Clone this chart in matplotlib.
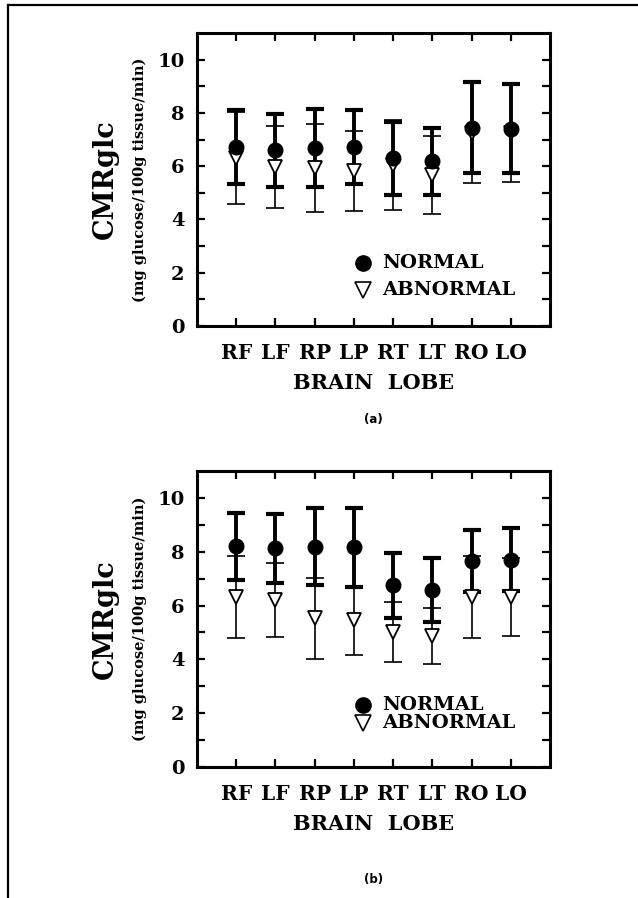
import matplotlib
matplotlib.use("Agg")
import matplotlib.pyplot as plt
import numpy as np

lobes = ["RF", "LF", "RP", "LP", "RT", "LT", "RO", "LO"]

# Panel (a)
a_normal_mean = [6.72, 6.60, 6.68, 6.71, 6.30, 6.18, 7.45, 7.41]
a_normal_sd = [1.40, 1.37, 1.45, 1.39, 1.37, 1.27, 1.72, 1.66]
a_abnormal_mean = [6.30, 5.97, 5.93, 5.82, 6.05, 5.67, 7.25, 7.25]
a_abnormal_sd = [1.73, 1.55, 1.65, 1.50, 1.70, 1.47, 1.90, 1.83]

# Panel (b)
b_normal_mean = [8.20, 8.12, 8.19, 8.16, 6.75, 6.59, 7.67, 7.70]
b_normal_sd = [1.25, 1.29, 1.42, 1.46, 1.20, 1.19, 1.15, 1.17]
b_abnormal_mean = [6.33, 6.21, 5.52, 5.45, 5.02, 4.86, 6.33, 6.33]
b_abnormal_sd = [1.52, 1.37, 1.49, 1.27, 1.13, 1.04, 1.52, 1.45]

yticks = [0, 2, 4, 6, 8, 10]

SERIF = "DejaVu Serif"

fig = plt.figure(figsize=(6.38, 8.98), dpi=100)

# page frame lines (top and left)
fig.add_artist(plt.Line2D([0.012, 1.0], [0.9945, 0.9945], color="black", lw=1.6, transform=fig.transFigure))
fig.add_artist(plt.Line2D([0.012, 0.012], [0.0, 0.9945], color="black", lw=1.6, transform=fig.transFigure))


def panel(rect, nm, nsd, am, asd, leg_y, tag, tag_y):
    ax = fig.add_axes(rect)
    x = np.arange(1, len(lobes) + 1)
    # abnormal (thin)
    ax.errorbar(x, am, yerr=asd, fmt="none", ecolor="black", elinewidth=1.2,
                capsize=6.5, capthick=1.2, zorder=2)
    # normal (thick)
    ax.errorbar(x, nm, yerr=nsd, fmt="none", ecolor="black", elinewidth=2.8,
                capsize=6.5, capthick=3.0, zorder=2.5)
    ax.plot(x, am, linestyle="none", marker="v", markersize=10,
            markerfacecolor="white", markeredgecolor="black", markeredgewidth=1.3, zorder=3)
    ax.plot(x, nm, linestyle="none", marker="o", markersize=10.5,
            markerfacecolor="black", markeredgecolor="black", zorder=4)

    ax.set_xlim(0, 9)
    ax.set_ylim(0, 11)
    ax.set_xticks(x)
    ax.set_xticklabels(lobes)
    ax.set_yticks(yticks)
    ax.set_yticklabels([str(v) for v in yticks])
    ax.set_yticks(np.arange(1, 11, 2), minor=True)
    for s in ax.spines.values():
        s.set_linewidth(2.2)
    ax.tick_params(axis="both", which="major", direction="in", length=5.5, width=1.6,
                   top=True, right=True, labelsize=14)
    ax.tick_params(axis="y", which="minor", direction="in", length=5.5, width=1.6,
                   left=True, right=True)
    ax.tick_params(axis="x", which="major", pad=12)
    ax.tick_params(axis="y", which="major", pad=9)
    for lab in ax.get_xticklabels() + ax.get_yticklabels():
        lab.set_fontfamily(SERIF)
        lab.set_fontweight("bold")
    for lab in ax.get_xticklabels():
        lab.set_fontsize(14.5)

    ax.set_xlabel("BRAIN  LOBE", fontfamily=SERIF, fontweight="bold", fontsize=15)
    ax.xaxis.set_label_coords(0.5, -0.16)
    ax.text(-0.26, 0.5, "CMRglc", transform=ax.transAxes, rotation=90,
            ha="center", va="center", fontfamily=SERIF, fontweight="bold", fontsize=19.5)
    ax.text(-0.162, 0.5, "(mg glucose/100g tissue/min)", transform=ax.transAxes, rotation=90,
            ha="center", va="center", fontfamily=SERIF, fontweight="bold", fontsize=10.5)

    # legend
    lx = 0.47
    ax.plot([lx], [leg_y[0]], transform=ax.transAxes, marker="o", markersize=11,
            color="black", linestyle="none", clip_on=False)
    ax.plot([lx], [leg_y[1]], transform=ax.transAxes, marker="v", markersize=11,
            markerfacecolor="white", markeredgecolor="black", markeredgewidth=1.2,
            linestyle="none", clip_on=False)
    ax.text(lx + 0.055, leg_y[0], "NORMAL", transform=ax.transAxes, ha="left", va="center",
            fontfamily=SERIF, fontweight="bold", fontsize=14)
    ax.text(lx + 0.055, leg_y[1], "ABNORMAL", transform=ax.transAxes, ha="left", va="center",
            fontfamily=SERIF, fontweight="bold", fontsize=14)

    fig.text(rect[0] + rect[2] / 2, tag_y, tag, ha="center", va="center",
             fontfamily="DejaVu Sans", fontweight="bold", fontsize=8.5)
    return ax


panel([0.3088, 0.6370, 0.5533, 0.3263], a_normal_mean, a_normal_sd, a_abnormal_mean, a_abnormal_sd,
      (0.215, 0.123), "(a)", 1 - 420 / 898)
panel([0.3088, 0.1459, 0.5533, 0.3296], b_normal_mean, b_normal_sd, b_abnormal_mean, b_abnormal_sd,
      (0.209, 0.149), "(b)", 1 - 880 / 898)

fig.savefig("out.png", dpi=100)
